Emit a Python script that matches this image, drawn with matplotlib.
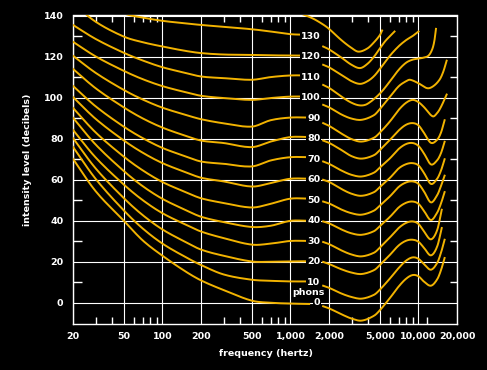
import matplotlib
matplotlib.use("Agg")
import matplotlib.pyplot as plt
from matplotlib.ticker import FixedLocator, FixedFormatter, NullFormatter
import numpy as np

GOLD = '#f2b300'

# equal loudness contours (dB)
# left half of each contour: 20 Hz up to the phon labels
left_freq = [20, 30, 50, 70, 100, 150, 200, 300, 500, 700, 1000, 1400]
left_0 = [70.2, 54.5, 40.0, 30.5, 23.0, 15.5, 11.0, 6.3, 1.1, 0.1, -0.3, -0.5]
left_10 = [76.0, 60.5, 45.0, 36.3, 28.9, 22.5, 18.5, 13.9, 11.3, 10.8, 10.5, 10.5]
left_20 = [80.3, 65.6, 51.0, 42.8, 35.8, 29.8, 26.0, 23.0, 20.2, 20.1, 20.3, 20.3]
left_30 = [84.3, 70.9, 57.6, 50.1, 43.7, 38.3, 34.8, 31.6, 28.4, 28.9, 30.2, 30.2]
left_40 = [90.2, 77.2, 64.2, 56.9, 50.7, 45.4, 42.0, 39.4, 37.0, 37.6, 40.0, 40.0]
left_50 = [95.0, 83.1, 71.2, 64.6, 58.9, 54.1, 51.0, 48.7, 46.5, 48.3, 50.8, 50.8]
left_60 = [100.3, 89.7, 79.1, 73.2, 68.1, 63.8, 61.0, 59.2, 56.7, 58.4, 60.5, 60.5]
left_70 = [105.7, 95.8, 85.8, 80.3, 75.5, 71.5, 68.9, 67.8, 66.5, 69.4, 71.0, 71.0]
left_80 = [114.0, 104.6, 95.2, 89.9, 85.4, 81.5, 79.1, 77.9, 75.9, 78.6, 80.8, 80.8]
left_90 = [120.4, 112.1, 103.7, 99.1, 95.1, 91.7, 89.5, 87.5, 85.9, 89.0, 90.3, 90.3]
left_100 = [127.2, 120.1, 113.0, 109.0, 105.6, 102.7, 100.9, 99.8, 98.9, 99.8, 100.5, 100.5]
left_110 = [135.4, 128.6, 121.8, 118.1, 114.8, 112.1, 110.3, 109.5, 108.7, 110.0, 110.8, 110.8]
left_120 = [146.0, 137.0, 129.7, 127.0, 124.9, 122.8, 121.7, 121.0, 120.8, 120.6, 120.5, 120.5]
left_130 = [156.0, 148.0, 141.0, 139.0, 137.4, 136.2, 135.4, 134.5, 133.3, 132.2, 130.9, 130.6]

# right half of each contour, past the labels
freq_a = [1800, 2000, 2500, 3000, 3600, 4500, 5000, 6000, 7000, 8000, 9000,
          10000, 11000, 12500, 14000, 15000, 16000]
freq_b = [1800, 2000, 2500, 3000, 3600, 4500, 5000, 6000, 7000, 8000, 9000,
          10000, 11000, 12500, 14000, 15200]
right_0 = [-1.6, -2.6, -5.5, -7.6, -8.6, -6.2, -3.5, 2.5, 8.0, 11.8, 13.6,
           13.0, 10.5, 8.4, 11.5, 16.0, 21.9]
right_10 = [8.4, 7.4, 4.6, 2.9, 2.1, 4.0, 6.5, 12.0, 17.0, 20.6, 22.2,
            21.5, 19.0, 16.2, 19.5, 24.5, 30.8]
right_20 = [20.0, 19.0, 16.4, 14.8, 14.1, 16.0, 18.5, 23.5, 28.0, 30.3, 30.8,
            29.8, 27.0, 23.2, 27.5, 36.5]
right_30 = [29.7, 28.7, 25.6, 23.6, 22.7, 24.5, 27.0, 32.0, 36.5, 39.0, 39.7,
            38.5, 35.0, 31.0, 35.5, 45.4]
right_40 = [39.7, 38.8, 35.8, 33.9, 33.2, 35.0, 37.5, 42.0, 46.5, 48.8, 49.4,
            48.3, 45.0, 40.4, 44.0, 48.5, 54.0]
right_50 = [49.4, 48.5, 45.5, 43.7, 43.0, 45.0, 47.5, 52.0, 56.5, 58.7, 59.2,
            58.0, 54.5, 49.0, 52.5, 57.0, 62.0]
right_60 = [60.0, 59.0, 55.5, 53.2, 52.2, 54.0, 56.5, 61.0, 65.5, 67.6, 68.1,
            67.0, 63.5, 58.0, 60.5, 64.5, 70.0]
right_70 = [68.9, 67.8, 64.5, 62.4, 61.6, 63.5, 66.0, 70.5, 75.0, 77.4, 77.9,
            76.5, 73.0, 67.5, 69.5, 73.0, 78.5]
right_80 = [79.1, 78.0, 74.5, 71.5, 70.3, 72.0, 74.5, 79.5, 84.0, 86.8, 87.6,
            86.5, 83.0, 78.0, 79.5, 83.0, 89.0]
freq_90 = [1800, 2000, 2500, 3000, 3600, 4500, 5000, 6000, 7000, 8000, 9000,
           10000, 11000, 12900, 14000, 15000, 16600]
right_90 = [87.6, 86.3, 82.5, 79.8, 78.6, 80.5, 83.0, 88.5, 94.0, 97.5, 98.9,
            97.8, 95.5, 90.9, 92.5, 95.5, 101.5]
freq_100 = [1800, 2000, 2500, 3000, 3600, 4500, 5000, 6000, 7000, 8000, 8600,
            10000, 11700, 13000, 14600, 15600, 16600]
right_100 = [96.5, 95.3, 91.8, 89.8, 89.2, 91.5, 94.5, 100.5, 105.5, 108.0, 108.7,
             107.0, 104.6, 105.5, 108.7, 112.5, 118.0]
freq_110 = [1800, 2000, 2500, 3000, 3500, 4000, 5000, 6000, 7000, 8000, 9000,
            10000, 11000, 12000, 12800, 13300, 13700]
right_110 = [106.2, 104.8, 100.5, 97.5, 96.2, 97.0, 102.0, 108.0, 113.5, 117.0, 118.5,
             119.0, 119.5, 120.5, 123.5, 127.5, 133.5]
freq_120 = [1800, 2000, 2500, 3000, 3500, 4000, 4500, 5000, 6000, 7000, 8000, 9000, 10000]
right_120 = [116.0, 114.8, 111.0, 108.0, 106.7, 108.0, 110.5, 114.0, 120.5, 125.0, 128.0, 130.0, 132.2]
freq_130 = [1800, 2000, 2500, 3000, 3500, 4000, 4500, 5000, 5500, 6000, 6500]
right_130 = [124.9, 123.5, 119.5, 116.0, 114.4, 116.5, 120.0, 124.0, 127.5, 130.0, 132.2]
freq_top = [1200, 1500, 1800, 2000, 2500, 3000, 3400, 4000, 4500, 5000, 5200]
right_top = [141.0, 138.5, 135.6, 133.5, 128.0, 124.2, 122.4, 124.0, 127.0, 130.5, 132.7]

phons = [0, 10, 20, 30, 40, 50, 60, 70, 80, 90, 100, 110, 120, 130]

x_ticks = [20, 50, 100, 200, 500, 1000, 2000, 5000, 10000, 20000]
x_labels = ['20', '50', '100', '200', '500', '1,000', '2,000', '5,000', '10,000', '20,000']
x_minor = [30, 40, 60, 70, 80, 90, 300, 400, 600, 700, 800, 900,
           3000, 4000, 6000, 7000, 8000, 9000]
x_extra_tick = [11700]  # odd lone tick on the bottom edge only
y_ticks = [0, 20, 40, 60, 80, 100, 120, 140]
y_minor = [10, 30, 50, 70, 90, 110, 130]

left_curves = [left_0, left_10, left_20, left_30, left_40, left_50, left_60,
               left_70, left_80, left_90, left_100, left_110, left_120, left_130]
right_curves = [(freq_a, right_0), (freq_a, right_10), (freq_b, right_20),
                (freq_b, right_30), (freq_a, right_40), (freq_a, right_50),
                (freq_a, right_60), (freq_a, right_70), (freq_a, right_80),
                (freq_90, right_90), (freq_100, right_100), (freq_110, right_110),
                (freq_120, right_120), (freq_130, right_130), (freq_top, right_top)]


def smooth(fr, vals, per=12):
    # cubic hermite through the read points, in log-frequency, just for drawing
    x = np.log10(np.asarray(fr, float))
    y = np.asarray(vals, float)
    m = np.empty_like(y)
    m[1:-1] = (y[2:] - y[:-2]) / (x[2:] - x[:-2])
    m[0] = (y[1] - y[0]) / (x[1] - x[0])
    m[-1] = (y[-1] - y[-2]) / (x[-1] - x[-2])
    xs, ys = [], []
    t = np.linspace(0, 1, per, endpoint=False)
    for i in range(len(x) - 1):
        h = x[i + 1] - x[i]
        h00 = 2 * t**3 - 3 * t**2 + 1
        h10 = t**3 - 2 * t**2 + t
        h01 = -2 * t**3 + 3 * t**2
        h11 = t**3 - t**2
        ys.append(h00 * y[i] + h10 * h * m[i] + h01 * y[i + 1] + h11 * h * m[i + 1])
        xs.append(x[i] + t * h)
    xs.append([x[-1]])
    ys.append([y[-1]])
    return 10 ** np.concatenate(xs), np.concatenate(ys)


fig = plt.figure(figsize=(4.87, 3.70), dpi=100, facecolor='black')
ax = fig.add_axes([73 / 487, 46.5 / 370, 384 / 487, 308 / 370])
ax.set_facecolor('black')
ax.set_xscale('log')
ax.set_xlim(20, 20000)
ax.set_ylim(-10, 140)

for sp in ax.spines.values():
    sp.set_color('white')
    sp.set_linewidth(1.0)

ax.xaxis.set_major_locator(FixedLocator(x_ticks))
ax.xaxis.set_major_formatter(FixedFormatter(x_labels))
ax.xaxis.set_minor_locator(FixedLocator(x_minor))
ax.xaxis.set_minor_formatter(NullFormatter())
ax.yaxis.set_major_locator(FixedLocator(y_ticks))
ax.yaxis.set_minor_locator(FixedLocator(y_minor))

lab = dict(color='white', fontsize=6.8, fontweight='bold')
ax.tick_params(which='major', length=0, labelcolor='white', labelsize=6.8)
ax.tick_params(axis='x', which='major', pad=6)
ax.tick_params(axis='y', which='major', pad=7)
ax.tick_params(axis='x', which='minor', direction='in', length=5, width=1,
               color='white', top=True, bottom=True)
ax.tick_params(axis='y', which='minor', direction='in', length=6.5, width=1,
               color='white', left=True, right=False)
for t in ax.get_xticklabels() + ax.get_yticklabels():
    t.set_fontweight('bold')
ax.vlines(x_extra_tick, 0, 5 / 308 * 1.39, transform=ax.get_xaxis_transform(),
          color='white', linewidth=1)

ax.grid(True, which='major', color='white', linewidth=0.8)
ax.set_axisbelow(True)

# right side ticks are a bit shorter
ax2 = ax.twinx()
ax2.set_ylim(-10, 140)
ax2.set_yticks([])
ax2.yaxis.set_minor_locator(FixedLocator(y_minor))
ax2.tick_params(axis='y', which='minor', direction='in', length=5, width=1,
                color='white', right=True, labelright=False)
for sp in ax2.spines.values():
    sp.set_visible(False)

for vals in left_curves:
    ax.plot(*smooth(left_freq, vals), color=GOLD, linewidth=1.4, zorder=3)
for fr, vals in right_curves:
    ax.plot(*smooth(fr, vals), color=GOLD, linewidth=1.4, zorder=3)

for p in phons:
    ax.text(1710, p, str(p), ha='right', va='center', zorder=5,
            bbox=dict(facecolor='black', edgecolor='none', pad=0.6), **lab)
ax.text(1380, 5, 'phons', ha='center', va='center', zorder=5,
        bbox=dict(facecolor='black', edgecolor='none', pad=0.3), **lab)

ax.set_xlabel('frequency (hertz)', **lab)
ax.set_ylabel('intensity level (decibels)', **lab)
ax.xaxis.set_label_coords(0.503, -0.096)
ax.xaxis.label.set_va('center')
ax.yaxis.set_label_coords(-0.118, 0.531)
ax.yaxis.label.set_va('center')

fig.savefig('out.png', dpi=100, facecolor='black')
